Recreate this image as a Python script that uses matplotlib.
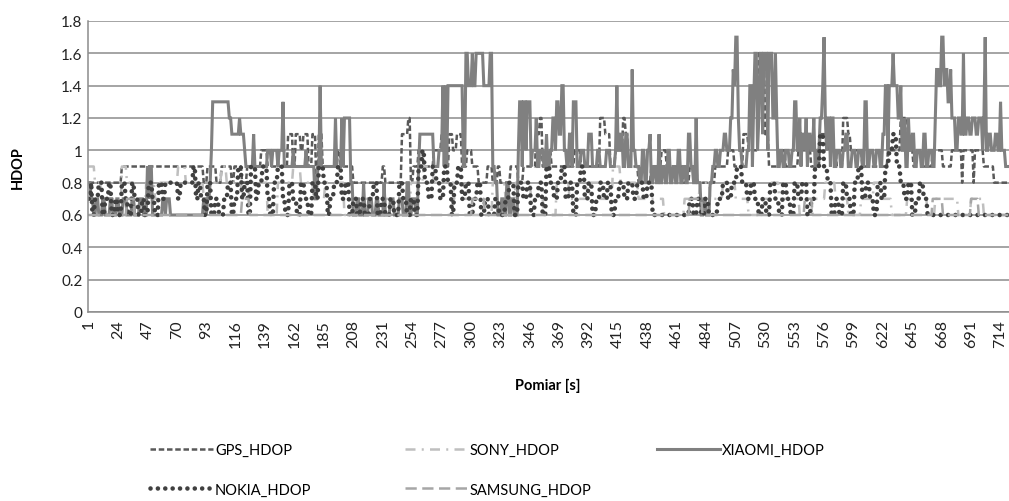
import numpy as np
import matplotlib
matplotlib.use("Agg")
import matplotlib.pyplot as plt

N = 720
x_tick_labels = [str(v) for v in range(1, 715, 23)]

# Run-length readings: (value, last index of run)
gps_runs = [(0.8,26),(0.9,90),(0.8,93),(0.9,100),(0.8,104),(0.9,112),(0.8,114),(0.9,120),(0.8,124),(0.9,135),
            (1.0,140),(0.9,156),(1.1,160),(0.9,162),(1.1,166),(1.0,168),(1.1,172),(0.9,175),(1.1,178),(0.8,180),(1.1,183),
            (0.9,195),(1.0,197),(0.9,205),(0.9,207),(0.8,230),(0.9,232),(0.8,245),(1.1,250),(1.2,252),(0.8,254),(0.9,258),
            (1.0,262),(0.9,270),(1.0,276),(1.1,280),(0.9,282),(1.1,285),(1.0,288),(1.1,292),(0.9,296),(1.0,300),(0.9,305),
            (0.8,312),(0.9,316),(0.8,320),(0.9,322),(0.8,330),(0.9,336),(0.8,340),(0.9,350),(1.1,353),(1.2,355),(0.9,360),
            (1.0,362),(0.9,380),(1.0,385),(0.9,400),(1.2,404),(1.1,408),(0.9,412),(1.0,418),(1.2,420),(1.1,422),(0.9,430),
            (0.8,440),(0.9,448),(1.0,452),(0.9,465),(0.8,470),(0.9,476),(0.8,490),(0.9,500),(1.0,505),(0.9,512),(1.1,516),
            (1.0,524),(1.6,526),(1.5,528),(1.6,529),(1.1,532),(0.9,540),(1.0,545),(0.9,555),(1.0,565),(0.9,572),(1.1,578),
            (1.0,585),(0.9,590),(1.2,594),(1.1,596),(1.0,605),(0.9,612),(0.9,625),(1.0,635),(1.2,641),(1.0,645),(0.9,660),
            (1.0,668),(0.9,675),(1.0,683),(0.8,684),(1.0,692),(0.8,693),(1.0,700),(0.9,708),(0.8,720)]

sony_runs = [(0.9,5),(0.8,10),(0.7,20),(0.6,26),(0.9,30),(0.8,36),(0.6,45),(0.8,52),(0.7,56),(0.8,70),(0.9,76),(0.8,90),
             (0.7,95),(0.8,104),(0.9,108),(0.8,120),(0.7,126),(0.8,140),(0.6,148),(0.8,160),(0.9,166),(0.8,176),(0.7,185),
             (0.8,200),(0.6,215),(0.7,222),(0.6,232),(0.7,240),(0.6,252),(0.8,262),(0.9,270),(0.8,286),(0.7,300),(0.6,316),
             (0.8,326),(0.7,334),(0.8,346),(0.7,356),(0.6,366),(0.8,376),(0.7,390),(0.8,400),(0.7,410),(0.9,416),(0.8,430),
             (0.7,450),(0.6,466),(0.7,478),(0.8,486),(0.7,496),(0.8,506),(0.7,516),(0.6,524),(0.7,534),(0.8,540),(0.7,556),
             (0.6,566),(0.7,576),(0.8,584),(0.7,594),(0.6,604),(0.7,614),(0.8,620),(0.7,628),(0.6,640),(0.7,656),(0.6,662),
             (0.7,680),(0.6,690),(0.7,700),(0.6,720)]

xiaomi_runs = [(0.8,2),(0.7,4),(0.6,6),(0.7,8),(0.6,11),(0.7,13),(0.6,17),(0.7,19),(0.6,22),(0.7,24),(0.6,27),
               (0.7,30),(0.6,34),(0.7,36),(0.6,40),(0.7,43),(0.6,46),(0.9,47),(0.7,48),(0.9,50),(0.6,52),
               (0.6,58),(0.7,60),(0.6,61),(0.7,64),(0.6,66),(0.6,90),(0.7,92),(0.6,93),(0.7,95),(0.8,96),(1.0,97),
               (1.3,110),(1.2,112),(1.1,113),(1.1,118),(1.2,119),(1.1,122),(1.0,123),(0.9,129),(1.1,130),(0.9,140),
               (1.0,143),(0.9,144),(1.0,148),(0.9,149),(1.0,152),(1.3,153),(0.9,160),(1.0,161),(0.9,170),(1.0,171),
               (0.9,177),(0.7,179),(0.9,181),(1.4,182),(0.9,193),(1.2,194),(0.9,198),(1.2,199),(0.9,200),(1.2,205),
               (0.8,207),(0.6,210),(0.7,212),(0.6,215),(0.8,216),(0.6,219),(0.7,222),(0.6,225),(0.7,227),(0.6,231),
               (0.8,232),(0.6,236),(0.7,239),(0.6,243),(0.7,246),(0.6,249),(0.8,251),(0.6,253),(0.7,256),(0.6,258),
               (0.9,259),(1.1,270),(0.9,274),(1.0,277),(1.4,278),(0.9,279),(1.4,280),(0.9,281),(1.4,293),
               (0.9,295),(1.6,297),(1.4,300),(1.6,301),(1.4,303),(1.6,309),(1.4,314),(1.6,316),
               (0.9,318),(0.8,320),(0.6,323),(0.7,325),(0.6,327),(0.8,329),(0.6,331),(0.7,333),(0.6,336),
               (1.0,337),(1.3,339),(0.9,340),(1.3,342),(1.0,343),(1.3,346),(0.9,347),
               (1.0,350),(1.2,351),(0.9,353),(1.0,356),(0.9,358),(1.1,359),(0.9,361),(1.0,363),(1.2,365),(1.0,366),
               (1.3,368),(1.1,370),(1.4,372),(1.0,374),(0.9,376),(1.1,378),(0.9,379),(1.3,382),(0.9,385),(1.0,388),
               (0.9,391),(1.1,394),(0.9,398),(1.0,400),(0.9,405),(1.0,408),(0.9,412),(1.0,413),
               (1.4,414),(1.0,416),(1.1,418),(0.9,420),(1.1,422),(0.9,425),(1.5,426),(1.0,428),(0.9,431),
               (0.8,433),(1.0,435),(0.8,437),(1.0,439),(1.1,440),(0.8,442),(0.9,444),(0.8,446),(1.1,447),(0.8,449),
               (0.9,451),(0.8,453),(1.0,455),(0.8,457),(0.9,459),(0.8,461),(1.0,463),(0.8,465),(0.9,467),(0.8,469),
               (1.1,471),(0.9,473),(0.8,475),(1.2,476),(0.8,479),(0.6,481),(0.7,483),(0.6,486),(0.8,488),(0.9,490),
               (1.0,492),(0.9,494),(1.0,497),(1.1,499),(1.0,502),(1.2,504),(1.5,505),(1.4,506),(1.7,508),(1.2,509),
               (1.0,511),(0.9,513),(0.9,515),(1.0,517),(1.4,519),(0.9,520),(1.3,521),(1.6,523),(1.0,524),(1.2,525),
               (1.6,527),(1.1,528),(1.6,531),(1.0,532),(1.6,535),(1.2,537),(1.6,538),(1.2,539),(0.9,541),(1.0,543),
               (0.9,545),(1.0,548),(0.9,550),(1.0,552),(1.3,554),(1.0,556),(1.2,557),(0.9,558),(1.1,560),(1.0,561),
               (1.2,562),(0.9,563),(1.1,565),(1.0,567),(1.2,568),(0.9,570),(1.0,572),(1.2,574),(1.4,575),(1.7,576),
               (1.2,577),(1.0,578),(1.2,580),(0.9,581),(1.2,583),(0.9,585),(1.0,588),(0.9,590),(1.0,592),(1.1,594),
               (0.9,597),(1.0,600),(0.9,602),(1.0,605),(0.9,607),(1.3,609),(0.9,611),(1.0,614),(0.9,616),
               (1.0,619),(0.9,621),(1.1,623),(1.4,625),(1.0,626),(1.4,629),(1.6,630),(1.4,633),(1.2,635),(1.4,636),
               (1.0,638),(1.2,639),(0.9,641),(1.2,642),(1.0,644),(1.1,646),(0.9,648),(1.0,651),(0.9,653),(1.1,655),
               (0.9,657),(1.0,660),(0.9,662),(1.2,663),(1.5,665),(1.4,667),(1.7,669),(1.4,670),(1.5,672),(1.3,674),
               (1.5,675),(1.2,678),(1.0,680),(1.2,682),(1.1,684),(1.6,685),(1.1,687),(1.2,689),(1.1,691),(1.2,694),
               (1.1,696),(1.2,699),(1.0,700),(1.2,701),(1.7,702),(1.0,704),(1.1,706),(1.0,709),(1.1,711),(1.0,713),
               (1.3,714),(1.0,717),(0.9,720)]

nokia_runs = [(0.7,2),(0.8,3),(0.6,5),(0.7,8),(0.8,11),(0.6,13),(0.7,16),(0.8,18),(0.6,21),(0.7,23),(0.6,26),(0.8,29),
              (0.7,31),(0.6,34),(0.8,36),(0.7,39),(0.6,42),(0.7,44),(0.6,47),(0.8,50),(0.7,52),(0.6,55),(0.8,58),
              (0.7,60),(0.8,70),(0.7,72),(0.8,82),(0.9,84),(0.7,86),(0.8,88),(0.7,91),(0.6,93),(0.8,96),(0.6,99),
              (0.7,102),(0.6,106),(0.7,109),(0.8,112),(0.6,114),(0.7,117),(0.9,120),(0.7,122),(0.8,125),(0.6,127),
              (0.9,131),(0.7,133),(0.8,136),(0.9,140),(0.7,142),(0.6,145),(0.8,148),(0.9,152),(0.7,154),(0.6,157),
              (0.8,160),(0.7,163),(0.6,166),(0.8,169),(0.7,172),(0.6,175),(0.8,178),(0.7,180),(0.9,184),(0.8,187),
              (0.6,189),(0.7,192),(0.8,195),(0.9,198),(0.7,201),(0.8,204),(0.6,207),(0.7,210),(0.6,213),(0.7,216),
              (0.6,220),(0.7,223),(0.8,226),(0.6,229),(0.7,232),(0.6,236),(0.7,239),(0.6,243),(0.8,246),(0.7,249),
              (0.6,252),(0.7,255),(0.6,258),(0.9,261),(1.0,263),(0.8,266),(0.7,269),(0.9,272),(0.8,275),(0.7,278),
              (0.9,281),(0.8,284),(0.6,286),(0.8,289),(0.9,292),(0.7,295),(0.8,298),(0.6,301),(0.7,304),(0.8,307),
              (0.6,310),(0.7,313),(0.6,318),(0.7,321),(0.6,326),(0.7,329),(0.8,333),(0.6,336),(0.8,340),(0.7,343),
              (0.8,346),(0.6,349),(0.7,352),(0.8,355),(0.6,358),(0.9,361),(0.8,364),(0.7,367),(0.8,370),(0.9,373),
              (0.7,376),(0.8,379),(0.6,382),(0.8,385),(0.9,388),(0.7,391),(0.8,394),(0.6,397),(0.7,400),(0.8,403),
              (0.7,406),(0.8,409),(0.6,412),(0.7,415),(0.8,419),(0.7,422),(0.8,426),(0.7,429),(0.8,434),(0.7,437),
              (0.8,441),(0.6,470),(0.7,473),(0.6,476),(0.7,479),(0.6,482),(0.7,485),(0.6,492),(0.7,496),(0.8,500),
              (0.7,503),(0.8,507),(0.9,511),(0.8,515),(0.7,518),(0.8,521),(0.7,524),(0.6,527),(0.7,530),(0.6,533),
              (0.8,537),(0.7,540),(0.6,543),(0.8,546),(0.7,549),(0.6,552),(0.8,555),(0.7,558),(0.8,562),(0.6,565),
              (0.7,568),(0.9,572),(1.1,575),(0.9,578),(0.8,581),(0.6,584),(0.7,587),(0.6,590),(0.8,593),(0.7,596),
              (0.6,599),(0.8,602),(0.9,605),(0.7,608),(0.8,611),(0.7,614),(0.6,617),(0.8,620),(0.7,623),(0.9,626),
              (1.0,629),(1.1,632),(0.9,635),(0.8,638),(0.7,641),(0.8,644),(0.6,647),(0.7,650),(0.8,653),(0.7,656),
              (0.6,720)]

samsung_runs = [(0.6,30),(0.7,36),(0.6,120),(0.7,126),(0.6,300),(0.7,310),(0.6,470),(0.7,480),(0.6,560),(0.7,566),
                (0.6,660),(0.7,668),(0.6,690),(0.7,696),(0.6,720)]


def expand(runs, n=N):
    vals = []
    prev = 0
    for v, end in runs:
        if end > prev:
            vals.extend([v] * (end - prev))
            prev = end
    vals = vals[:n] + [vals[-1]] * max(0, n - len(vals))
    return np.array(vals)


x = np.arange(1, N + 1)
gps = expand(gps_runs)
sony = expand(sony_runs)
xiaomi = expand(xiaomi_runs)
nokia = expand(nokia_runs)
samsung = expand(samsung_runs)

FONT = "Lato"
W, H = 1009, 502
fig = plt.figure(figsize=(W / 100, H / 100), dpi=100)
ax = fig.add_axes([88 / W, 1 - 313 / H, (W - 88) / W + 0.01, (313 - 22) / H])

ax.set_xlim(0.5, N + 0.5 + 8)
ax.set_ylim(0, 1.8)
ax.set_yticks(np.arange(0, 1.81, 0.2))
ax.yaxis.grid(True, color="#8c8c8c", lw=1.1)
ax.set_axisbelow(True)
for s in ["top", "right"]:
    ax.spines[s].set_visible(False)
ax.spines["left"].set_color("#8c8c8c")
ax.spines["left"].set_linewidth(1.1)
ax.spines["bottom"].set_color("#8c8c8c")
ax.spines["bottom"].set_linewidth(1.1)

l_gps, = ax.plot(x, gps, color="#595959", lw=1.8, dashes=(2.2, 1.1), label="GPS_HDOP")
l_sony, = ax.plot(x, sony, color="#bfbfbf", lw=1.8, dashes=(4, 2.5, 0.8, 2.5), label="SONY_HDOP")
l_xia, = ax.plot(x, xiaomi, color="#808080", lw=2.2, label="XIAOMI_HDOP", solid_joinstyle="miter")
l_nok, = ax.plot(x, nokia, color="#404040", lw=3.3, dashes=(0.01, 1.6), dash_capstyle="round", label="NOKIA_HDOP")
l_sam, = ax.plot(x, samsung, color="#a6a6a6", lw=1.8, dashes=(4.5, 2.2), label="SAMSUNG_HDOP")

tick_pos = [int(t) for t in x_tick_labels]
ax.set_xticks(tick_pos)
ax.set_xticklabels(x_tick_labels, rotation=90, fontsize=11.5, family=FONT, color="#222222")
ax.tick_params(axis="x", length=0, pad=5)
ax.tick_params(axis="y", length=0, pad=4)
ax.set_yticklabels([("%.1f" % v).rstrip("0").rstrip(".") if v != 0 else "0" for v in np.arange(0, 1.81, 0.2)],
                   fontsize=11, family=FONT, color="#222222")

fig.text(18 / W, 1 - 168 / H, "HDOP", rotation=90, ha="center", va="center",
         fontsize=10.5, fontweight="bold", family=FONT)
fig.text(548 / W, 1 - 386 / H, "Pomiar [s]", ha="center", va="center",
         fontsize=10.5, fontweight="bold", family=FONT)

leg_kw = dict(frameon=False, loc="upper left", handlelength=4.3, handletextpad=0.15,
              labelspacing=1.75, borderpad=0, borderaxespad=0,
              prop={"family": FONT, "size": 10.5})
fig.legend([l_gps, l_nok], ["GPS_HDOP", "NOKIA_HDOP"], bbox_to_anchor=(150 / W, 1 - 444 / H), **leg_kw)
fig.legend([l_sony, l_sam], ["SONY_HDOP", "SAMSUNG_HDOP"], bbox_to_anchor=(405 / W, 1 - 444 / H), **leg_kw)
fig.legend([l_xia], ["XIAOMI_HDOP"], bbox_to_anchor=(657 / W, 1 - 444 / H), **leg_kw)

fig.savefig("out.png", dpi=100, facecolor="white")
